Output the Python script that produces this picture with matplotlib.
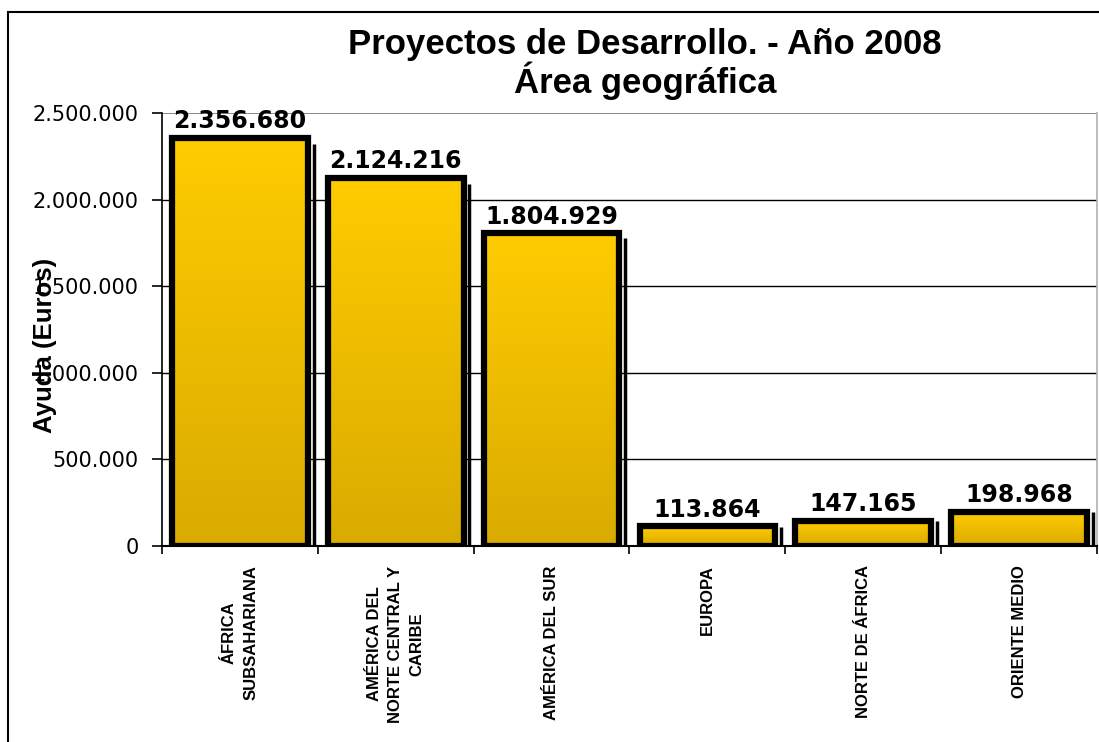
import matplotlib
matplotlib.use("Agg")
import matplotlib.pyplot as plt
import matplotlib.patches as mpatches
import numpy as np
from matplotlib.colors import LinearSegmentedColormap

categories = ["ÁFRICA\nSUBSAHARIANA", "AMÉRICA DEL\nNORTE CENTRAL Y\nCARIBE",
              "AMÉRICA DEL SUR", "EUROPA", "NORTE DE ÁFRICA", "ORIENTE MEDIO"]
values = [2356680, 2124216, 1804929, 113864, 147165, 198968]
value_labels = ["2.356.680", "2.124.216", "1.804.929", "113.864", "147.165", "198.968"]
yticks = [0, 500000, 1000000, 1500000, 2000000, 2500000]
ytick_labels = ["0", "500.000", "1.000.000", "1.500.000", "2.000.000", "2.500.000"]
title = "Proyectos de Desarrollo. - Año 2008\nÁrea geográfica"
ylabel = "Ayuda (Euros)"

W, H = 1099, 742
fig = plt.figure(figsize=(W / 100, H / 100), dpi=100)
fig.patch.set_facecolor("white")

# outer frame
fig.add_artist(mpatches.Rectangle((8 / W, -0.01), 1.02, 1 - 12 / H + 0.01,
                                  transform=fig.transFigure, fill=False,
                                  edgecolor="black", linewidth=1.5))

ax = fig.add_axes([162 / W, 1 - 546 / H, (1097 - 162) / W, (546 - 113) / H])
ax.set_xlim(-0.5, len(values) - 0.5)
ax.set_ylim(0, 2500000)

ax.spines["top"].set_visible(False)
ax.spines["right"].set_color("#b0b0b0")
ax.spines["right"].set_linewidth(1.2)
ax.spines["left"].set_linewidth(1.2)
ax.spines["bottom"].set_linewidth(1.5)

# gridlines
for t in yticks[1:]:
    ax.axhline(t, color="#808080" if t == yticks[-1] else "black",
               linewidth=1.3 if t == yticks[-1] else 1.0, zorder=1)

cmap = LinearSegmentedColormap.from_list("g", ["#D9AB00", "#FFCC00"])
grad = np.linspace(0, 1, 256).reshape(-1, 1)
bw = 0.87
x = np.arange(len(values))
bars = ax.bar(x, values, width=bw, color="none", edgecolor="black",
              linewidth=4.5, zorder=4)
ymax = 2500000
for b, v in zip(bars, values):
    x0 = b.get_x()
    im = ax.imshow(grad, extent=[x0, x0 + bw, 0, v], origin="lower",
                   aspect="auto", cmap=cmap, zorder=3)
    im.set_clip_path(b)
    # shadow line
    ax.plot([x0 + bw + 0.038, x0 + bw + 0.038], [0, v * 0.985],
            color="black", linewidth=2.5, zorder=2, solid_capstyle="butt")
ax.set_xlim(-0.5, len(values) - 0.5)
ax.set_ylim(0, ymax)

for xi, v, lab in zip(x, values, value_labels):
    ax.annotate(lab, (xi, v), xytext=(0, 7), textcoords="offset points",
                ha="center", va="baseline", fontsize=17,
                fontweight="bold", family="DejaVu Sans", zorder=6,
                annotation_clip=False)

ax.set_yticks(yticks)
ax.set_yticklabels(ytick_labels, fontsize=15, family="DejaVu Sans")
ax.tick_params(axis="y", direction="out", length=7, width=1.2, pad=10)

ax.set_xticks(np.arange(len(values) + 1) - 0.5, minor=False)
ax.set_xticklabels([])
ax.tick_params(axis="x", direction="out", length=6, width=1.2)
ax.set_xticks(x, minor=True)
ax.set_xticklabels(categories, minor=True, rotation=90, fontsize=12,
                   fontweight="bold", family="Liberation Sans",
                   multialignment="center", va="top", ha="center",
                   linespacing=1.55)
ax.tick_params(axis="x", which="minor", length=0, pad=14)

fig.text(645 / W, 1 - 64 / H, title, ha="center", va="center", fontsize=25,
         fontweight="bold", family="Liberation Sans", linespacing=1.0)
fig.text(45 / W, 1 - 345 / H, ylabel, ha="center", va="center", rotation=90,
         fontsize=18.5, fontweight="bold", family="Liberation Sans")

fig.savefig("out.png", dpi=100)
